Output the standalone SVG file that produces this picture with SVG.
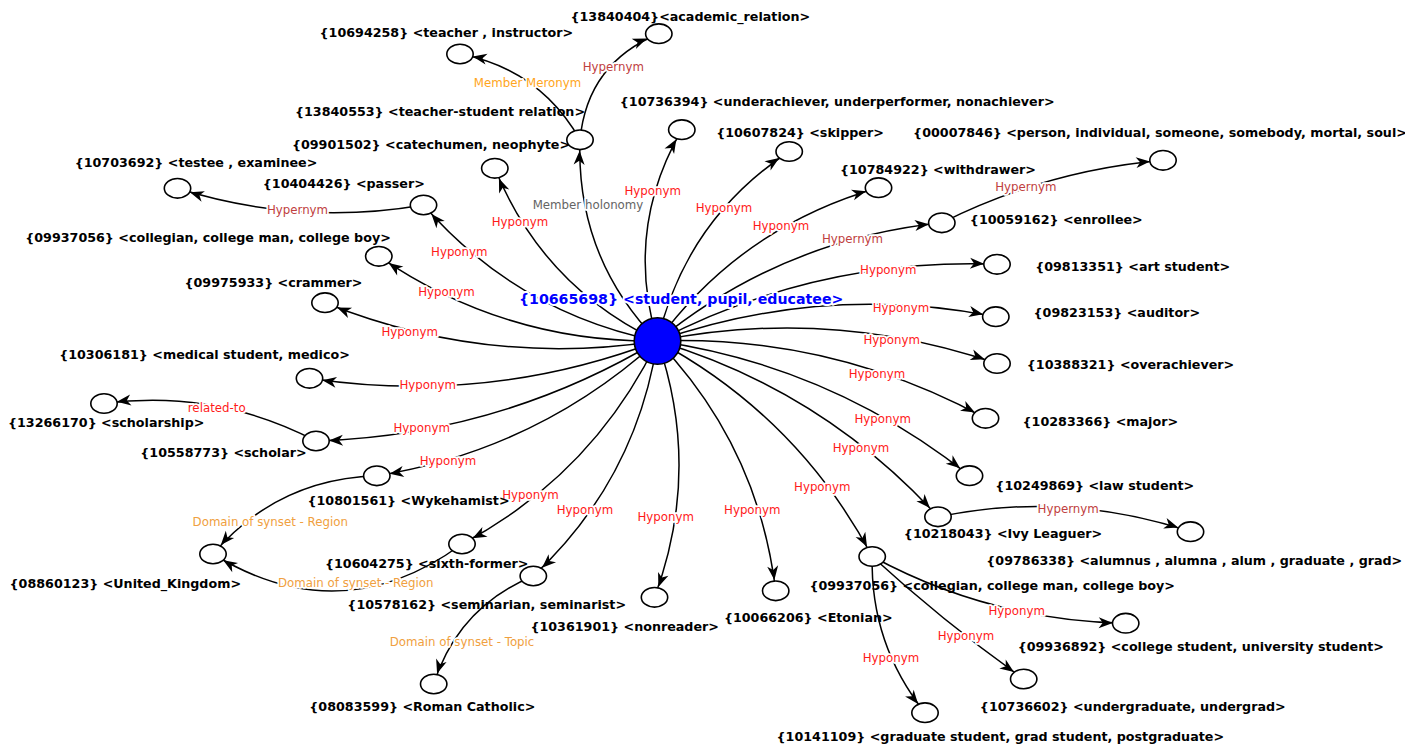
<svg xmlns="http://www.w3.org/2000/svg" width="1405" height="744" viewBox="0 0 1405 744">
<style>
.e{fill:none;stroke:#000;stroke-width:1.5}
.n{fill:#fff;stroke:#000;stroke-width:1.6}
.t{font-family:"DejaVu Sans","Liberation Sans",sans-serif;font-size:12.7px;font-weight:bold;fill:#000;text-anchor:middle}
.l{font-family:"DejaVu Sans","Liberation Sans",sans-serif;font-size:11.8px;text-anchor:middle;stroke:#fff;stroke-width:3.5;paint-order:stroke;stroke-linejoin:round}
.hypo{fill:#ff1a1a}.hyper{fill:#c04040}.mer{fill:#ffa520}.hol{fill:#646464}.dom{fill:#f0a040}
</style>
<defs>
<marker id="a11" viewBox="-30 -8 40 16" markerWidth="40" markerHeight="16" refX="0" refY="0" orient="auto" markerUnits="userSpaceOnUse"><path d="M-11,0 L-25,-5.5 L-21,0 L-25,5.5 Z" fill="#000"/></marker>
<marker id="a12" viewBox="-30 -8 40 16" markerWidth="40" markerHeight="16" refX="0" refY="0" orient="auto" markerUnits="userSpaceOnUse"><path d="M-12,0 L-26,-5.5 L-22,0 L-26,5.5 Z" fill="#000"/></marker>
<marker id="a13" viewBox="-30 -8 40 16" markerWidth="40" markerHeight="16" refX="0" refY="0" orient="auto" markerUnits="userSpaceOnUse"><path d="M-13,0 L-27,-5.5 L-23,0 L-27,5.5 Z" fill="#000"/></marker>
</defs>
<g id="connectors">
<path class="e" d="M657.5,341 Q542.7,286.2 494.8,168.3" marker-end="url(#a11)"/>
<path class="e" d="M657.5,341 Q517.4,312.8 423.5,205" marker-end="url(#a12)"/>
<path class="e" d="M657.5,341 Q504.8,342.7 378.8,256.3" marker-end="url(#a12)"/>
<path class="e" d="M657.5,341 Q486,367.55 325,302.7" marker-end="url(#a13)"/>
<path class="e" d="M657.5,341 Q488.4,405.4 309.5,378.3" marker-end="url(#a13)"/>
<path class="e" d="M657.5,341 Q499.7,435.2 316,441" marker-end="url(#a13)"/>
<path class="e" d="M657.5,341 Q537.1,449.9 376.8,475.8" marker-end="url(#a13)"/>
<path class="e" d="M657.5,341 Q592.9,474.4 462,544" marker-end="url(#a12)"/>
<path class="e" d="M657.5,341 Q636.1,480 533.3,576" marker-end="url(#a12)"/>
<path class="e" d="M657.5,341 Q702,469.7 654.5,597.3" marker-end="url(#a11)"/>
<path class="e" d="M657.5,341 Q758.2,446.2 775.7,590.8" marker-end="url(#a11)"/>
<path class="e" d="M657.5,341 Q797.4,416.3 872.2,556.5" marker-end="url(#a11)"/>
<path class="e" d="M657.5,341 Q822.2,389.9 938,516.8" marker-end="url(#a12)"/>
<path class="e" d="M657.5,341 Q831.7,366.1 969.5,475.7" marker-end="url(#a12)"/>
<path class="e" d="M657.5,341 Q832.05,334.9 985.5,418.3" marker-end="url(#a12)"/>
<path class="e" d="M657.5,341 Q830.3,306.35 997,363.5" marker-end="url(#a13)"/>
<path class="e" d="M657.5,341 Q823.35,282.95 995.8,316.7" marker-end="url(#a13)"/>
<path class="e" d="M657.5,341 Q817.1,257.75 997,264.3" marker-end="url(#a13)"/>
<path class="e" d="M657.5,341 Q781.95,239.4 941.8,222.8" marker-end="url(#a13)"/>
<path class="e" d="M657.5,341 Q741.8,226.55 878.5,187.7" marker-end="url(#a13)"/>
<path class="e" d="M657.5,341 Q685.55,220.05 789.2,151.5" marker-end="url(#a12)"/>
<path class="e" d="M657.5,341 Q623.95,230.1 681.8,129.7" marker-end="url(#a11)"/>
<path class="e" d="M657.5,341 Q575.85,256.9 580,139.8" marker-end="url(#a11)"/>
<path class="e" d="M580,139.8 Q539.8,69.2 460,54" marker-end="url(#a13)"/>
<path class="e" d="M580,139.8 Q587.3,62.95 658.8,33.7" marker-end="url(#a13)"/>
<path class="e" d="M423.5,205 Q298.5,226.6 177.5,188.3" marker-end="url(#a13)"/>
<path class="e" d="M941.8,222.8 Q1046.4,170.4 1163,160.3" marker-end="url(#a13)"/>
<path class="e" d="M316,441 Q215.9,388.8 104,403.5" marker-end="url(#a13)"/>
<path class="e" d="M938,516.8 Q1066.25,490.3 1190.5,531.7" marker-end="url(#a13)"/>
<path class="e" d="M872.2,556.5 Q990.8,620.8 1125.7,623.2" marker-end="url(#a13)"/>
<path class="e" d="M872.2,556.5 Q944.2,622.4 1023.7,679" marker-end="url(#a12)"/>
<path class="e" d="M872.2,556.5 Q870.2,644.2 925,712.7" marker-end="url(#a11)"/>
<path class="e" d="M376.8,475.8 Q277.7,478.8 213,554" marker-end="url(#a12)"/>
<path class="e" d="M462,544 Q340.9,632.9 213,554" marker-end="url(#a12)"/>
<path class="e" d="M533.3,576 Q458.5,607 433.7,684" marker-end="url(#a11)"/>
<text class="l mer" x="527.5" y="87.3">Member Meronym</text>
<text class="l hyper" x="613.3" y="70.7">Hypernym</text>
<text class="l hol" x="588" y="208.7">Member holonomy</text>
<text class="l hypo" x="520" y="226">Hyponym</text>
<text class="l hypo" x="652.7" y="194.7">Hyponym</text>
<text class="l hypo" x="724" y="211.7">Hyponym</text>
<text class="l hypo" x="781" y="230">Hyponym</text>
<text class="l hyper" x="852.5" y="243">Hypernym</text>
<text class="l hyper" x="297.5" y="214">Hypernym</text>
<text class="l hyper" x="1025.8" y="191.3">Hypernym</text>
<text class="l hypo" x="459.3" y="256.3">Hyponym</text>
<text class="l hypo" x="446.5" y="295.7">Hyponym</text>
<text class="l hypo" x="409.7" y="336.3">Hyponym</text>
<text class="l hypo" x="427.7" y="389.3">Hyponym</text>
<text class="l hypo" x="216.7" y="412.3">related-to</text>
<text class="l hypo" x="421.7" y="432.3">Hyponym</text>
<text class="l hypo" x="448" y="464.7">Hyponym</text>
<text class="l hypo" x="888.3" y="274">Hyponym</text>
<text class="l hypo" x="901" y="311.7">Hyponym</text>
<text class="l hypo" x="891.7" y="344">Hyponym</text>
<text class="l hypo" x="877" y="378.3">Hyponym</text>
<text class="l hypo" x="882.7" y="423">Hyponym</text>
<text class="l hypo" x="861" y="452.3">Hyponym</text>
<text class="l hypo" x="822.3" y="490.7">Hyponym</text>
<text class="l hypo" x="530.5" y="498.7">Hyponym</text>
<text class="l hypo" x="585" y="514">Hyponym</text>
<text class="l hypo" x="665.7" y="521.3">Hyponym</text>
<text class="l hypo" x="752.3" y="514">Hyponym</text>
<text class="l hypo" x="891" y="662.3">Hyponym</text>
<text class="l dom" x="462" y="646.3">Domain of synset - Topic</text>
<text class="l hyper" x="1068.2" y="513.3">Hypernym</text>
<text class="l hypo" x="1016.7" y="614.7">Hyponym</text>
<text class="l hypo" x="966" y="639.7">Hyponym</text>
<text class="l dom" x="270.3" y="526">Domain of synset - Region</text>
<text class="l dom" x="355.7" y="586.7">Domain of synset - Region</text>
</g>
<g id="n-10665698"><circle cx="657.5" cy="341" r="23.3" fill="#0000ff" stroke="#000" stroke-width="1.6"/><text x="681.2" y="304" font-family="DejaVu Sans, Liberation Sans, sans-serif" font-size="14.2" font-weight="bold" fill="#0000ff" text-anchor="middle" stroke="#fff" stroke-width="4" paint-order="stroke" stroke-linejoin="round">{10665698} &lt;student, pupil, educatee&gt;</text></g>
<g id="n-13840404"><ellipse class="n" cx="658.8" cy="33.7" rx="13.2" ry="9.8"/><text class="t" x="690.3" y="21.3">{13840404}&lt;academic_relation&gt;</text></g>
<g id="n-10694258"><ellipse class="n" cx="460" cy="54" rx="13.2" ry="9.8"/><text class="t" x="446.3" y="37.3">{10694258} &lt;teacher , instructor&gt;</text></g>
<g id="n-13840553"><ellipse class="n" cx="580" cy="139.8" rx="13.2" ry="9.8"/><text class="t" x="440" y="116.3">{13840553} &lt;teacher-student relation&gt;</text></g>
<g id="n-09901502"><ellipse class="n" cx="494.8" cy="168.3" rx="13.2" ry="9.8"/><text class="t" x="431" y="148.6">{09901502} &lt;catechumen, neophyte&gt;</text></g>
<g id="n-10736394"><ellipse class="n" cx="681.8" cy="129.7" rx="13.2" ry="9.8"/><text class="t" x="837.2" y="106.3">{10736394} &lt;underachiever, underperformer, nonachiever&gt;</text></g>
<g id="n-10607824"><ellipse class="n" cx="789.2" cy="151.5" rx="13.2" ry="9.8"/><text class="t" x="800" y="136.9">{10607824} &lt;skipper&gt;</text></g>
<g id="n-10784922"><ellipse class="n" cx="878.5" cy="187.7" rx="13.2" ry="9.8"/><text class="t" x="938" y="173.9">{10784922} &lt;withdrawer&gt;</text></g>
<g id="n-00007846"><ellipse class="n" cx="1163" cy="160.3" rx="13.2" ry="9.8"/><text class="t" x="1160" y="136.6">{00007846} &lt;person, individual, someone, somebody, mortal, soul&gt;</text></g>
<g id="n-10059162"><ellipse class="n" cx="941.8" cy="222.8" rx="13.2" ry="9.8"/><text class="t" x="1056.3" y="223.9">{10059162} &lt;enrollee&gt;</text></g>
<g id="n-10703692"><ellipse class="n" cx="177.5" cy="188.3" rx="13.2" ry="9.8"/><text class="t" x="196" y="167.3">{10703692} &lt;testee , examinee&gt;</text></g>
<g id="n-10404426"><ellipse class="n" cx="423.5" cy="205" rx="13.2" ry="9.8"/><text class="t" x="343.8" y="188.3">{10404426} &lt;passer&gt;</text></g>
<g id="n-09937056-a"><ellipse class="n" cx="378.8" cy="256.3" rx="13.2" ry="9.8"/><text class="t" x="208" y="241.9">{09937056} &lt;collegian, college man, college boy&gt;</text></g>
<g id="n-09975933"><ellipse class="n" cx="325" cy="302.7" rx="13.2" ry="9.8"/><text class="t" x="273.5" y="286.9">{09975933} &lt;crammer&gt;</text></g>
<g id="n-10306181"><ellipse class="n" cx="309.5" cy="378.3" rx="13.2" ry="9.8"/><text class="t" x="204.5" y="358.6">{10306181} &lt;medical student, medico&gt;</text></g>
<g id="n-13266170"><ellipse class="n" cx="104" cy="403.5" rx="13.2" ry="9.8"/><text class="t" x="106.2" y="427.3">{13266170} &lt;scholarship&gt;</text></g>
<g id="n-10558773"><ellipse class="n" cx="316" cy="441" rx="13.2" ry="9.8"/><text class="t" x="223.5" y="457.3">{10558773} &lt;scholar&gt;</text></g>
<g id="n-10801561"><ellipse class="n" cx="376.8" cy="475.8" rx="13.2" ry="9.8"/><text class="t" x="408.5" y="504.6">{10801561} &lt;Wykehamist&gt;</text></g>
<g id="n-09813351"><ellipse class="n" cx="997" cy="264.3" rx="13.2" ry="9.8"/><text class="t" x="1132.7" y="271.3">{09813351} &lt;art student&gt;</text></g>
<g id="n-09823153"><ellipse class="n" cx="995.8" cy="316.7" rx="13.2" ry="9.8"/><text class="t" x="1116.8" y="316.6">{09823153} &lt;auditor&gt;</text></g>
<g id="n-10388321"><ellipse class="n" cx="997" cy="363.5" rx="13.2" ry="9.8"/><text class="t" x="1130.5" y="368.9">{10388321} &lt;overachiever&gt;</text></g>
<g id="n-10283366"><ellipse class="n" cx="985.5" cy="418.3" rx="13.2" ry="9.8"/><text class="t" x="1100.3" y="425.6">{10283366} &lt;major&gt;</text></g>
<g id="n-10249869"><ellipse class="n" cx="969.5" cy="475.7" rx="13.2" ry="9.8"/><text class="t" x="1094.8" y="490.3">{10249869} &lt;law student&gt;</text></g>
<g id="n-08860123"><ellipse class="n" cx="213" cy="554" rx="13.2" ry="9.8"/><text class="t" x="125.3" y="588.3">{08860123} &lt;United_Kingdom&gt;</text></g>
<g id="n-10604275"><ellipse class="n" cx="462" cy="544" rx="13.2" ry="9.8"/><text class="t" x="426.7" y="567.9">{10604275} &lt;sixth-former&gt;</text></g>
<g id="n-10578162"><ellipse class="n" cx="533.3" cy="576" rx="13.2" ry="9.8"/><text class="t" x="486.7" y="608.6">{10578162} &lt;seminarian, seminarist&gt;</text></g>
<g id="n-08083599"><ellipse class="n" cx="433.7" cy="684" rx="13.2" ry="9.8"/><text class="t" x="422.3" y="711.3">{08083599} &lt;Roman Catholic&gt;</text></g>
<g id="n-10361901"><ellipse class="n" cx="654.5" cy="597.3" rx="13.2" ry="9.8"/><text class="t" x="624.7" y="630.6">{10361901} &lt;nonreader&gt;</text></g>
<g id="n-10066206"><ellipse class="n" cx="775.7" cy="590.8" rx="13.2" ry="9.8"/><text class="t" x="808.3" y="621.6">{10066206} &lt;Etonian&gt;</text></g>
<g id="n-09937056-b"><ellipse class="n" cx="872.2" cy="556.5" rx="13.2" ry="9.8"/><text class="t" x="992.2" y="589.6">{09937056} &lt;collegian, college man, college boy&gt;</text></g>
<g id="n-10141109"><ellipse class="n" cx="925" cy="712.7" rx="13.2" ry="9.8"/><text class="t" x="1000.3" y="741.3">{10141109} &lt;graduate student, grad student, postgraduate&gt;</text></g>
<g id="n-10218043"><ellipse class="n" cx="938" cy="516.8" rx="13.2" ry="9.8"/><text class="t" x="1003" y="538.3">{10218043} &lt;Ivy Leaguer&gt;</text></g>
<g id="n-09786338"><ellipse class="n" cx="1190.5" cy="531.7" rx="13.2" ry="9.8"/><text class="t" x="1194.3" y="565.3">{09786338} &lt;alumnus , alumna , alum , graduate , grad&gt;</text></g>
<g id="n-09936892"><ellipse class="n" cx="1125.7" cy="623.2" rx="13.2" ry="9.8"/><text class="t" x="1200.8" y="651.3">{09936892} &lt;college student, university student&gt;</text></g>
<g id="n-10736602"><ellipse class="n" cx="1023.7" cy="679" rx="13.2" ry="9.8"/><text class="t" x="1132.8" y="711.3">{10736602} &lt;undergraduate, undergrad&gt;</text></g>
</svg>
